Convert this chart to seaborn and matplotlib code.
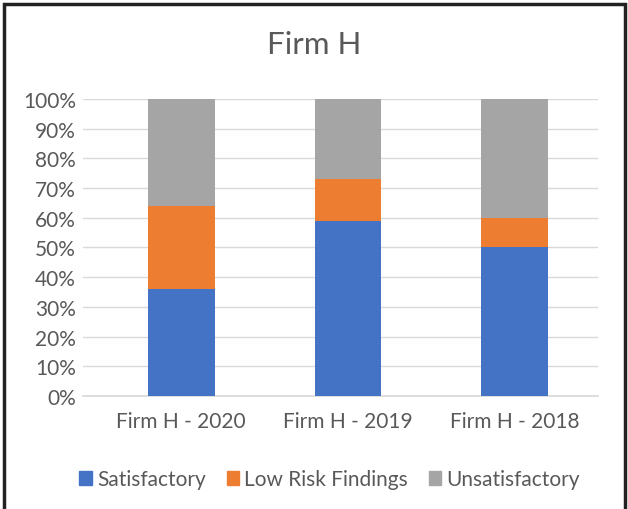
import numpy as np
import pandas as pd
import matplotlib
matplotlib.use("Agg")
import matplotlib.pyplot as plt
from matplotlib.patches import Patch, Rectangle
import seaborn as sns

# data (percent of reviews)
years = ['Firm H - 2020', 'Firm H - 2019', 'Firm H - 2018']
satisfactory = [36, 59, 50]
low_risk = [28, 14, 10]
unsatisfactory = [36, 27, 40]

colors = {'Satisfactory': '#4472C4', 'Low Risk Findings': '#ED7D31', 'Unsatisfactory': '#A5A5A5'}
text_col = '#595959'

sns.set_theme(style="white")
plt.rcParams['font.family'] = ['Lato', 'DejaVu Sans']

df = pd.DataFrame({'Year': years, 'Satisfactory': satisfactory,
                   'Low Risk Findings': low_risk, 'Unsatisfactory': unsatisfactory})
df['top_low'] = df['Satisfactory'] + df['Low Risk Findings']
df['top_uns'] = df['top_low'] + df['Unsatisfactory']
# show as fractions of the total
for c in ['Satisfactory', 'top_low', 'top_uns']:
    df[c + '_pct'] = df[c] / df['top_uns'] * 100

fig = plt.figure(figsize=(6.28, 5.1), dpi=100)
ax = fig.add_axes([0.132, 0.2216, 0.82, 0.5824])

# layered bars give the stacked look
sns.barplot(data=df, x='Year', y='top_uns_pct', color=colors['Unsatisfactory'], width=0.4,
            saturation=1, linewidth=0, ax=ax, zorder=3)
sns.barplot(data=df, x='Year', y='top_low_pct', color=colors['Low Risk Findings'], width=0.4,
            saturation=1, linewidth=0, ax=ax, zorder=3)
sns.barplot(data=df, x='Year', y='Satisfactory_pct', color=colors['Satisfactory'], width=0.4,
            saturation=1, linewidth=0, ax=ax, zorder=3)

ax.set_ylim(0, 100)
ax.set_xlim(-0.59, 2.5)
ax.set_yticks(np.arange(0, 101, 10))
ax.set_yticklabels([f'{v}%' for v in range(0, 101, 10)])
ax.yaxis.grid(True, color='#D9D9D9', linewidth=1, zorder=0)
ax.set_xlabel('')
ax.set_ylabel('')
for s in ['top', 'right', 'left']:
    ax.spines[s].set_visible(False)
ax.spines['bottom'].set_color('#D9D9D9')
ax.tick_params(axis='both', colors=text_col, labelsize=15, length=0)
ax.tick_params(axis='x', pad=11)
ax.tick_params(axis='y', pad=5)

fig.suptitle('Firm H', x=0.5, y=0.94, fontsize=22.5, color=text_col)

handles = [Patch(color=colors[k]) for k in ['Satisfactory', 'Low Risk Findings', 'Unsatisfactory']]
fig.legend(handles, ['Satisfactory', 'Low Risk Findings', 'Unsatisfactory'], loc='center',
           bbox_to_anchor=(0.525, 0.058), ncol=3, frameon=False, fontsize=15,
           handlelength=0.6, handleheight=0.6, handletextpad=0.25, columnspacing=1.0,
           labelcolor=text_col)

# outer frame like the screenshot
fig.patches.append(Rectangle((0.006, -0.01), 0.99, 1.0, transform=fig.transFigure,
                             fill=False, edgecolor='#222222', linewidth=2.5))

fig.savefig('out.png', dpi=100)
